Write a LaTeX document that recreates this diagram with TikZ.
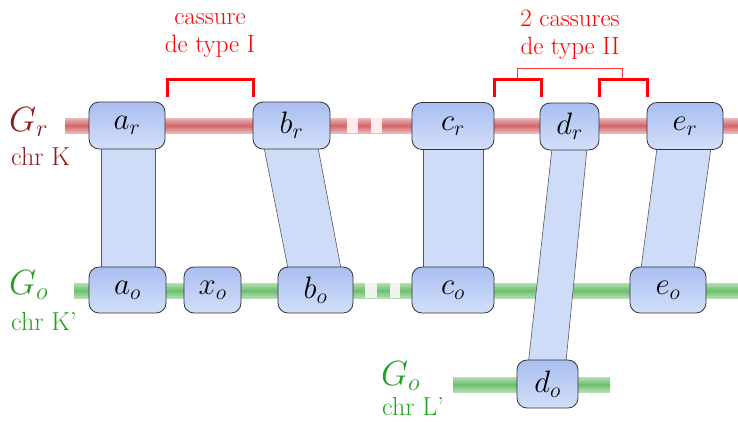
\RequirePackage{fix-cm}
\documentclass[tikz,border=0pt]{standalone}
\usetikzlibrary{calc}
\pgfdeclarelayer{bg}
\pgfdeclarelayer{mid}
\pgfsetlayers{bg,mid,main}
\definecolor{rtxt}{HTML}{8B1A1A}
\definecolor{gtxt}{HTML}{22A022}
\definecolor{rtop}{HTML}{EDB8B8}
\definecolor{rmid}{HTML}{D0666B}
\definecolor{gtop}{HTML}{B4DEB4}
\definecolor{gmid}{HTML}{6CBF6C}
\definecolor{ntop}{HTML}{A9BFF0}
\definecolor{nbot}{HTML}{D3DFFA}
\definecolor{band}{HTML}{CEDCF8}
\tikzset{
  gene/.style={draw=black!80, line width=0.8pt, rounded corners=10pt, top color=ntop, bottom color=nbot, minimum height=47pt, inner sep=0pt, font=\fontsize{31}{34}\selectfont},
  bandshape/.style={fill=band, draw=black!65, line width=0.6pt},
  brk/.style={red, line width=3pt},
  lbl/.style={anchor=west, inner sep=0pt, font=\fontsize{26}{28}\selectfont},
  glbl/.style={anchor=west, inner sep=0pt, font=\fontsize{35}{36}\selectfont},
  ann/.style={red, align=center, inner sep=0pt, font=\fontsize{25}{28}\selectfont}
}
\begin{document}
\begin{tikzpicture}[x=1pt,y=-1pt]
\useasboundingbox (0,0) rectangle (738,421);
% genes
\node[gene, minimum width=76pt] (ar) at (127,125.5) {$a_r$};
\node[gene, minimum width=77pt] (br) at (291.5,125.5) {$b_r$};
\node[gene, minimum width=82pt] (cr) at (453,126) {$c_r$};
\node[gene, minimum width=59pt] (dr) at (569.5,126.5) {$d_r$};
\node[gene, minimum width=76pt] (er) at (685,126) {$e_r$};
\node[gene, minimum width=77pt, minimum height=46pt] (ao) at (127.5,290) {$a_o$};
\node[gene, minimum width=57pt, minimum height=46pt] (xo) at (212.5,290) {$x_o$};
\node[gene, minimum width=75pt, minimum height=46pt] (bo) at (315.5,290) {$b_o$};
\node[gene, minimum width=82pt, minimum height=46pt] (co) at (453,290) {$c_o$};
\node[gene, minimum width=76pt, minimum height=46pt] (eo) at (668,290) {$e_o$};
\node[gene, minimum width=61pt, minimum height=48pt] (do) at (547.5,384) {$d_o$};
% chromosomes
\begin{pgfonlayer}{bg}
\shade[top color=rtop, bottom color=rtop, middle color=rmid] (65,118) rectangle (738,133);
\fill[red!8] (347,118) rectangle (358,133);
\fill[red!8] (371,118) rectangle (382,133);
\shade[top color=gtop, bottom color=gtop, middle color=gmid] (74,283) rectangle (738,298);
\fill[green!50!black!8] (365,283) rectangle (377,298);
\fill[green!50!black!8] (390,283) rectangle (400,298);
\shade[top color=gtop, bottom color=gtop, middle color=gmid] (453,377) rectangle (610,392);
\end{pgfonlayer}
% bands
\begin{pgfonlayer}{mid}
\draw[bandshape] ($(ar.south)+(-26,-2)$) -- ($(ao.north)+(-26.5,2)$) -- ($(ao.north)+(27.5,2)$) -- ($(ar.south)+(28,-2)$) -- cycle;
\draw[bandshape] ($(br.south)+(-27.5,-2)$) -- ($(bo.north)+(-27.5,2)$) -- ($(bo.north)+(25.5,2)$) -- ($(br.south)+(26.5,-2)$) -- cycle;
\draw[bandshape] ($(cr.south)+(-30,-2)$) -- ($(co.north)+(-30,2)$) -- ($(co.north)+(30,2)$) -- ($(cr.south)+(30,-2)$) -- cycle;
\draw[bandshape] ($(dr.south)+(-17.5,-2)$) -- ($(do.north)+(-19,2)$) -- ($(do.north)+(18.5,2)$) -- ($(dr.south)+(17.5,-2)$) -- cycle;
\draw[bandshape] ($(er.south)+(-28,-2)$) -- ($(eo.north)+(-27,2)$) -- ($(eo.north)+(26,2)$) -- ($(er.south)+(26,-2)$) -- cycle;
\end{pgfonlayer}
% chromosome labels
\node[glbl, text=rtxt] (gr) at (9,122) {$G_r$};
\node[lbl, text=rtxt] (ck) at (11,157) {chr K};
\node[glbl, text=gtxt] (go) at (9,285) {$G_o$};
\node[lbl, text=gtxt] (ckp) at (11,322) {chr K'};
\node[glbl, text=gtxt] (go2) at (381,376) {$G_o$};
\node[lbl, text=gtxt] (clp) at (382,407) {chr L'};
% breaks
\coordinate (b1a) at (167,97); \coordinate (b1b) at (253,97);
\draw[brk] (b1a) -- (b1a |- 0,79) -- (b1b |- 0,79) -- (b1b);
\coordinate (b2a) at (494,97); \coordinate (b2b) at (541,97);
\coordinate (b3a) at (599,97); \coordinate (b3b) at (647,97);
\draw[brk] (b2a) -- (b2a |- 0,79) -- (b2b |- 0,79) -- (b2b);
\draw[brk] (b3a) -- (b3a |- 0,79) -- (b3b |- 0,79) -- (b3b);
\draw[red!80, line width=0.9pt] (517.5,79) -- (517.5,68) -- (622.5,68) -- (622.5,79);
\node[ann] (t1) at (210,36) {cassure\\de type I};
\node[ann] (t2) at (570,35) {2 cassures\\de type II};
\end{tikzpicture}
\end{document}
